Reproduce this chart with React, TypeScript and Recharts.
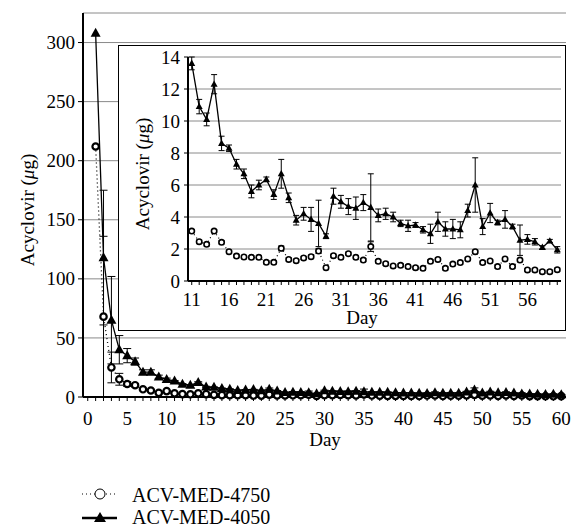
import React from 'react';
import { ComposedChart, Line, XAxis, YAxis, CartesianGrid, ErrorBar } from 'recharts';

const FONT = 'Liberation Serif, DejaVu Serif, serif';

// days 1..60
const days = [
  1, 2, 3, 4, 5, 6, 7, 8, 9, 10,
  11, 12, 13, 14, 15, 16, 17, 18, 19, 20,
  21, 22, 23, 24, 25, 26, 27, 28, 29, 30,
  31, 32, 33, 34, 35, 36, 37, 38, 39, 40,
  41, 42, 43, 44, 45, 46, 47, 48, 49, 50,
  51, 52, 53, 54, 55, 56, 57, 58, 59, 60,
];

const acv4750 = [
  212, 68, 25, 15, 11, 10, 6.5, 5.5, 3.5, 5,
  3.12, 2.46, 2.29, 3.12, 2.42, 1.83, 1.56, 1.5, 1.48, 1.48,
  1.17, 1.17, 2.04, 1.35, 1.27, 1.44, 1.52, 1.87, 0.83, 1.58,
  1.48, 1.71, 1.48, 1.31, 2.15, 1.23, 1.08, 0.94, 0.98, 0.9,
  0.83, 0.79, 1.23, 1.35, 0.79, 1.06, 1.15, 1.38, 1.83, 1.15,
  1.25, 0.9, 1.38, 0.9, 1.31, 0.69, 0.69, 0.58, 0.58, 0.71,
];
const acv4750Err = [
  0, 68, 13, 5, 2, 1.5, 1, 1, 0.8, 0.6,
  0.1, 0.1, 0.1, 0.1, 0.1, 0.1, 0.1, 0.1, 0.1, 0.1,
  0.1, 0.1, 0.15, 0.1, 0.1, 0.1, 0.1, 0.15, 0.1, 0.1,
  0.1, 0.1, 0.1, 0.1, 0.3, 0.1, 0.1, 0.1, 0.1, 0.1,
  0.1, 0.1, 0.1, 0.1, 0.1, 0.1, 0.1, 0.1, 0.1, 0.1,
  0.1, 0.1, 0.1, 0.1, 0.1, 0.1, 0.1, 0.1, 0.1, 0.1,
];

const acv4050 = [
  308, 118, 65, 40, 35, 30, 21, 21, 17, 15,
  13.6, 10.9, 10.1, 12.3, 8.6, 8.3, 7.3, 6.7, 5.6, 6.0,
  6.35, 5.4, 6.7, 5.2, 3.8, 4.2, 3.85, 3.6, 2.8, 5.3,
  4.95, 4.65, 4.55, 4.9, 4.6, 4.1, 4.2, 4.0, 3.6, 3.45,
  3.5, 3.2, 2.95, 3.7, 3.25, 3.25, 3.2, 4.4, 6.0, 3.4,
  4.25, 3.65, 3.85, 3.4, 2.55, 2.6, 2.45, 2.1, 2.5, 1.95,
];
const acv4050Err = [
  0, 57, 37, 12, 6, 3, 2, 2, 1.5, 1,
  0.4, 0.45, 0.4, 0.6, 0.45, 0.2, 0.3, 0.3, 0.4, 0.3,
  0.15, 0.3, 0.9, 0.3, 0.3, 0.4, 0.75, 1.45, 0.15, 0.5,
  0.4, 0.5, 0.7, 0.5, 2.1, 0.4, 0.35, 0.3, 0.2, 0.35,
  0.15, 0.2, 0.6, 0.6, 0.45, 0.6, 0.5, 0.4, 1.7, 0.5,
  0.6, 0.15, 0.55, 0.15, 0.95, 0.3, 0.2, 0.1, 0.1, 0.2,
];

const mainYTicks = [0, 50, 100, 150, 200, 250, 300];
const insetYTicks = [0, 2, 4, 6, 8, 10, 12, 14];
const mainDayTicks = [0, ...days];
const insetDayTicks = days.filter((d) => d >= 11);

const mainData = days.map((d, i) => ({
  day: d,
  a4750: acv4750[i],
  e4750: acv4750Err[i],
  a4050: acv4050[i],
  e4050: acv4050Err[i],
}));
const insetData = mainData.filter((r) => r.day >= 11);

const textStyle = { fontFamily: FONT, fontSize: 19, fill: '#000' };

const tri = (size: number) => (props: any) => {
  const { cx, cy, index } = props;
  if (cx == null || cy == null) return <g key={`t-${index}`} />;
  const h = size * 0.9;
  return (
    <path
      key={`t-${index}`}
      d={`M${cx},${cy - h * 0.6}L${cx + size / 2},${cy + h * 0.4}L${cx - size / 2},${cy + h * 0.4}Z`}
      fill="#000"
    />
  );
};

const circ = (r: number, sw: number) => (props: any) => {
  const { cx, cy, index } = props;
  if (cx == null || cy == null) return <g key={`c-${index}`} />;
  return <circle key={`c-${index}`} cx={cx} cy={cy} r={r} fill="#fff" stroke="#000" strokeWidth={sw} />;
};

const DayTick = ({ x, y, payload, first }: any) => {
  if ((payload.value - first) % 5 !== 0) return null;
  return (
    <text x={x} y={y} dy="0.71em" textAnchor="middle" style={textStyle}>
      {payload.value}
    </text>
  );
};

const ValTick = ({ x, y, payload }: any) => (
  <text x={x} y={y} dy="0.35em" textAnchor="end" style={textStyle}>
    {payload.value}
  </text>
);

const VLabel = ({ viewBox, lx, shift }: any) => {
  const cy = viewBox.y + viewBox.height / 2 + shift;
  return (
    <text
      x={lx}
      y={cy}
      transform={`rotate(-90, ${lx}, ${cy})`}
      textAnchor="middle"
      dominantBaseline="central"
      style={textStyle}
    >
      Acyclovir (<tspan fontStyle="italic">μ</tspan>g)
    </text>
  );
};

const HLabel = ({ lx, ly }: any) => (
  <text x={lx} y={ly} textAnchor="middle" style={textStyle}>
    Day
  </text>
);

export default function App() {
  return (
    <div style={{ position: 'absolute', left: 0, top: 0, width: 573, height: 527, background: '#fff' }}>
      <ComposedChart width={573} height={452} data={mainData} margin={{ top: 13, right: 7, bottom: 0, left: 0 }}>
        <CartesianGrid vertical={false} stroke="#8a8a8a" strokeWidth={1} />
        <XAxis
          type="number"
          dataKey="day"
          domain={[-0.6, 60.6]}
          ticks={mainDayTicks}
          interval={0}
          tick={<DayTick first={0} />}
          tickSize={4}
          tickMargin={11}
          tickLine={{ stroke: '#000' }}
          axisLine={{ stroke: '#000', strokeWidth: 2 }}
          height={55}
          label={<HLabel lx={325} ly={446} />}
        />
        <YAxis
          domain={[0, 325]}
          ticks={mainYTicks}
          width={83}
          tick={<ValTick />}
          tickSize={5}
          tickMargin={3}
          tickLine={{ stroke: '#000' }}
          axisLine={{ stroke: '#000', strokeWidth: 2 }}
          label={<VLabel lx={27} shift={5} />}
        />
        <Line
          dataKey="a4750"
          stroke="#000"
          strokeWidth={1.3}
          strokeDasharray="1 3"
          dot={circ(3.2, 2.2)}
          isAnimationActive={false}
        >
          <ErrorBar dataKey="e4750" width={4} stroke="#000" strokeWidth={1} direction="y" isAnimationActive={false} />
        </Line>
        <Line dataKey="a4050" stroke="#000" strokeWidth={1.3} dot={tri(10)} isAnimationActive={false}>
          <ErrorBar dataKey="e4050" width={4} stroke="#000" strokeWidth={1} direction="y" isAnimationActive={false} />
        </Line>
      </ComposedChart>

      <div
        style={{
          position: 'absolute',
          left: 119,
          top: 46,
          width: 446,
          height: 284,
          background: '#fff',
          outline: '1.5px solid #000',
        }}
      >
        <ComposedChart width={446} height={284} data={insetData} margin={{ top: 11, right: 4, bottom: 0, left: 0 }}>
          <CartesianGrid vertical={false} stroke="#8a8a8a" strokeWidth={1} />
          <XAxis
            type="number"
            dataKey="day"
            domain={[10.5, 60.5]}
            ticks={insetDayTicks}
            interval={0}
            tick={<DayTick first={11} />}
            tickSize={4}
            tickMargin={8}
            tickLine={{ stroke: '#000' }}
            axisLine={{ stroke: '#000', strokeWidth: 2 }}
            height={49}
            label={<HLabel lx={243} ly={278} />}
          />
          <YAxis
            domain={[0, 14]}
            ticks={insetYTicks}
            width={69}
            tick={<ValTick />}
            tickSize={4}
            tickMargin={4}
            tickLine={{ stroke: '#000' }}
            axisLine={{ stroke: '#000', strokeWidth: 2 }}
            label={<VLabel lx={23} shift={5} />}
          />
          <Line
            dataKey="a4750"
            stroke="#000"
            strokeWidth={1.2}
            strokeDasharray="1 3"
            dot={circ(2.7, 1.6)}
            isAnimationActive={false}
          >
            <ErrorBar dataKey="e4750" width={3} stroke="#000" strokeWidth={1} direction="y" isAnimationActive={false} />
          </Line>
          <Line dataKey="a4050" stroke="#000" strokeWidth={1.3} dot={tri(7)} isAnimationActive={false}>
            <ErrorBar dataKey="e4050" width={3} stroke="#000" strokeWidth={1} direction="y" isAnimationActive={false} />
          </Line>
        </ComposedChart>
      </div>

      <svg style={{ position: 'absolute', left: 0, top: 470 }} width={320} height={57}>
        <line x1={82} x2={117} y1={24} y2={24} stroke="#000" strokeWidth={1} strokeDasharray="1 3" />
        <circle cx={100} cy={24} r={5} fill="#fff" stroke="#000" strokeWidth={1} />
        <text x={132} y={32} style={{ ...textStyle, fontSize: 20 }}>
          ACV-MED-4750
        </text>
        <line x1={82} x2={117} y1={48} y2={48} stroke="#000" strokeWidth={2.5} />
        <path d="M100,42L106,52L94,52Z" fill="#000" />
        <text x={132} y={54} style={{ ...textStyle, fontSize: 20 }}>
          ACV-MED-4050
        </text>
      </svg>
    </div>
  );
}
